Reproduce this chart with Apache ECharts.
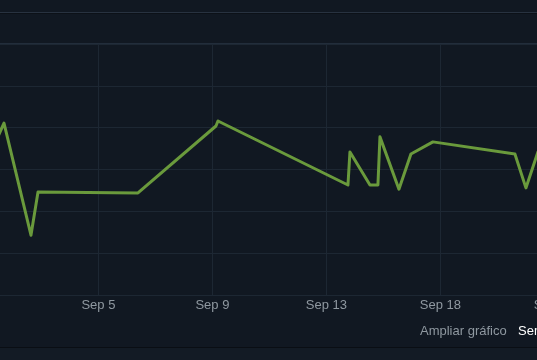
<!DOCTYPE html>
<html>
<head>
<meta charset="utf-8">
<script src="https://cdn.jsdelivr.net/npm/echarts@6/dist/echarts.min.js"></script>
<style>
html,body{margin:0;padding:0;background:#111822;overflow:hidden;}
#c{width:537px;height:360px;}
</style>
</head>
<body>
<div id="c"></div>
<script>
// Day of September (fractional) for each point
const days = [0.891, 1.354, 2.396, 2.667, 6.526, 9.537, 9.614, 14.632, 14.709, 15.481, 15.789, 15.867, 16.600, 17.063, 17.912, 21.077, 21.502, 21.965, 22.814];
// Price values
const prices = [3.47, 4.11, 1.43, 2.46, 2.44, 4.04, 4.16, 2.63, 3.42, 2.63, 2.63, 3.78, 2.53, 3.37, 3.66, 3.37, 2.56, 3.42, 3.47];
// Tick positions (fractional day) and labels
const tickDays = [5.0, 9.4, 13.8, 18.2, 22.6];
const tickLabels = ['Sep 5', 'Sep 9', 'Sep 13', 'Sep 18', 'Sep 22'];

const chart = echarts.init(document.getElementById('c'));
const data = days.map((d, i) => [d, prices[i]]);

chart.setOption({
  backgroundColor: '#111822',
  animation: false,
  grid: { left: 0, top: 44, right: -64, bottom: 65, containLabel: false, outerBoundsMode: 'none' },
  xAxis: {
    type: 'value', min: 1.2, max: 24.4,
    axisLine: { show: false },
    axisTick: { show: false, customValues: tickDays },
    splitLine: { show: true, lineStyle: { color: '#1d2733', width: 1 } },
    axisLabel: {
      customValues: tickDays,
      color: '#8f98a0', fontFamily: 'Liberation Sans, Arial, sans-serif', fontSize: 13, margin: 4,
      formatter: function (v) {
        for (let i = 0; i < tickDays.length; i++) if (Math.abs(tickDays[i] - v) < 0.01) return tickLabels[i];
        return '';
      }
    }
  },
  yAxis: {
    type: 'value', min: 0, max: 6, interval: 1,
    axisLine: { show: false }, axisTick: { show: false }, axisLabel: { show: false },
    splitLine: { show: true, lineStyle: { color: '#1d2733', width: 1 } }
  },
  series: [{
    type: 'line', data: data, symbol: 'none', clip: true,
    lineStyle: { color: '#6a9a3c', width: 3, join: 'round' }
  }],
  graphic: [
    { type: 'rect', shape: { x: 0, y: 12, width: 537, height: 1 }, style: { fill: '#283240' }, silent: true },
    { type: 'rect', shape: { x: 0, y: 13, width: 537, height: 1 }, style: { fill: '#0c1118' }, silent: true },
    { type: 'rect', shape: { x: 0, y: 43, width: 537, height: 2 }, style: { fill: '#222d3b' }, silent: true },
    { type: 'rect', shape: { x: 0, y: 347, width: 537, height: 1 }, style: { fill: '#0a0e14' }, silent: true },
    { type: 'rect', shape: { x: 0, y: 348, width: 537, height: 12 }, style: { fill: '#131b25' }, silent: true },
    { type: 'text', left: 420, top: 325, style: { text: 'Ampliar gráfico', fill: '#8f98a0', font: '13px "Liberation Sans", Arial, sans-serif' } },
    { type: 'text', left: 518, top: 325, style: { text: 'Semana', fill: '#ffffff', font: '13px "Liberation Sans", Arial, sans-serif' } }
  ]
});
</script>
</body>
</html>
